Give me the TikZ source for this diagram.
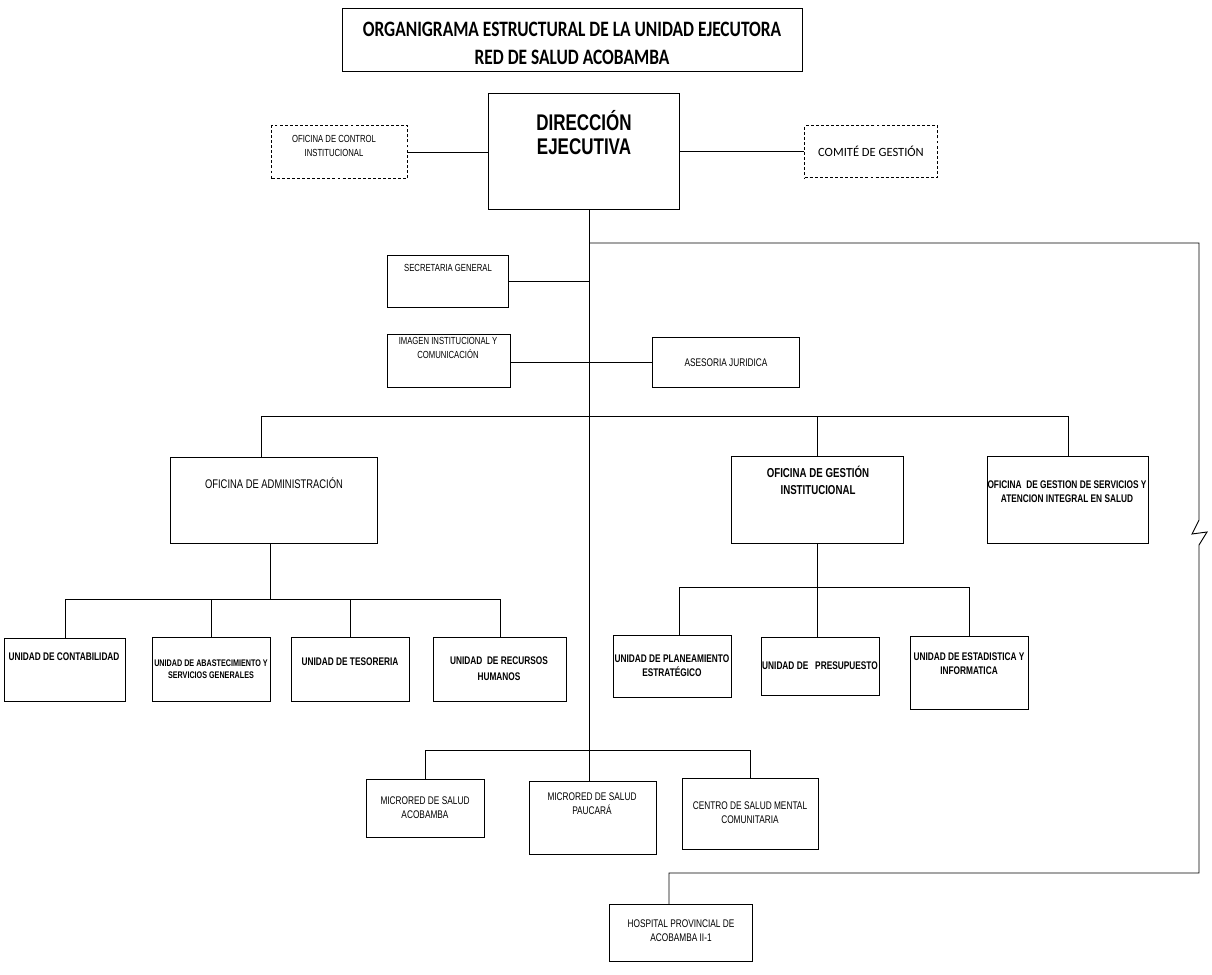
\documentclass[tikz,border=0pt]{standalone}
\usepackage{fontspec}
\setmainfont{Liberation Sans}[FakeStretch=0.75]
\newfontfamily\titlefont{Carlito}[FakeStretch=0.79]
\newfontfamily\comfont{Carlito}
\usepackage{tikz}

\newcommand{\px}{0.75pt}
\tikzset{
    box/.style 2 args={draw, line width=1pt, minimum width=#1*\px, minimum height=#2*\px, anchor=north west, inner sep=0pt},
    dbox/.style 2 args={box={#1}{#2}, dash pattern=on 2.2pt off 1.6pt},
    txt/.style={align=center, inner sep=0pt, font=\fontsize{8.3}{10.5}\selectfont},
    stxt/.style={align=center, inner sep=0pt, font=\fontsize{7.7}{10.5}\selectfont},
    btxt/.style={align=center, inner sep=0pt, font=\fontsize{8.3}{10.5}\selectfont\bfseries},
    wire/.style={line width=0.7pt}
}

\begin{document}
\begin{tikzpicture}[x=\px, y=-\px]
    \path[use as bounding box, fill=white] (0,0) rectangle (1212,974);

    % Boxes:
    \node[box={460}{63}] (title) at (342,8) {};
    \node[box={191}{116}] (dir) at (488,93) {};
    \node[dbox={136}{53}] (ctrl) at (271,125) {};
    \node[dbox={133}{52}] (com) at (804,125) {};
    \node[box={121}{52}] (sec) at (387,255) {};
    \node[box={123}{53}] (img) at (387,334) {};
    \node[box={147}{50}] (ase) at (652,337) {};
    \node[box={207}{86}] (adm) at (170,457) {};
    \node[box={172}{87}] (ges) at (731,456) {};
    \node[box={161}{87}] (serv) at (987,456) {};
    \node[box={121}{63}] (cont) at (4,638) {};
    \node[box={118}{64}] (abas) at (152,637) {};
    \node[box={118}{64}] (teso) at (291,637) {};
    \node[box={133}{64}] (rrhh) at (433,637) {};
    \node[box={118}{62}] (plan) at (613,635) {};
    \node[box={118}{58}] (pres) at (761,637) {};
    \node[box={118}{73}] (esta) at (910,636) {};
    \node[box={118}{58}] (mic1) at (366,779) {};
    \node[box={127}{73}] (mic2) at (529,781) {};
    \node[box={136}{71}] (csmc) at (682,778) {};
    \node[box={143}{57}] (hosp) at (609,904) {};

    % Texts:
    \node[align=center, inner sep=0pt, font=\titlefont\fontsize{16.5}{21}\selectfont\bfseries] (title-t) at (572,43) {ORGANIGRAMA ESTRUCTURAL DE LA UNIDAD EJECUTORA\\RED DE SALUD ACOBAMBA};
    \node[align=center, inner sep=0pt, font=\fontsize{17}{18}\selectfont\bfseries] (dir-t) at (584,133) {DIRECCIÓN\\EJECUTIVA};
    \node[stxt] (ctrl-t) at (334,146) {OFICINA DE CONTROL\\INSTITUCIONAL};
    \node[inner sep=0pt, font=\comfont\fontsize{9.4}{11}\selectfont] (com-t) at (871,151) {COMITÉ DE GESTIÓN};
    \node[stxt] (sec-t) at (448,268) {SECRETARIA GENERAL};
    \node[stxt] (img-t) at (448,348) {IMAGEN INSTITUCIONAL Y\\COMUNICACIÓN};
    \node[txt] (ase-t) at (726,363) {ASESORIA JURIDICA};
    \node[txt, font=\fontsize{9.4}{11}\selectfont] (adm-t) at (274,483) {OFICINA DE ADMINISTRACIÓN};
    \node[btxt, font=\fontsize{9.7}{12.75}\selectfont\bfseries] (ges-t) at (818,480) {OFICINA DE GESTIÓN\\INSTITUCIONAL};
    \node[btxt] (serv-t) at (1067,492) {OFICINA\ \ DE GESTION DE SERVICIOS Y\\ATENCION INTEGRAL EN SALUD};
    \node[btxt] (cont-t) at (64,657) {UNIDAD DE CONTABILIDAD};
    \node[btxt, font=\fontsize{7.2}{9}\selectfont\bfseries] (abas-t) at (211,669) {UNIDAD DE ABASTECIMIENTO Y\\SERVICIOS GENERALES};
    \node[btxt] (teso-t) at (350,662) {UNIDAD DE TESORERIA};
    \node[btxt, font=\fontsize{8.3}{12}\selectfont\bfseries] (rrhh-t) at (499,669) {UNIDAD\ \ DE RECURSOS\\HUMANOS};
    \node[btxt] (plan-t) at (672,666) {UNIDAD DE PLANEAMIENTO\\ESTRATÉGICO};
    \node[btxt] (pres-t) at (820,666) {UNIDAD DE\ \ \ PRESUPUESTO};
    \node[btxt] (esta-t) at (969,664) {UNIDAD DE ESTADISTICA Y\\INFORMATICA};
    \node[txt] (mic1-t) at (425,808) {MICRORED DE SALUD\\ACOBAMBA};
    \node[txt] (mic2-t) at (592,804) {MICRORED DE SALUD\\PAUCARÁ};
    \node[txt] (csmc-t) at (750,813) {CENTRO DE SALUD MENTAL\\COMUNITARIA};
    \node[txt] (hosp-t) at (681,931) {HOSPITAL PROVINCIAL DE\\ACOBAMBA II-1};

    % Wires:
    \coordinate (sp) at (589,209);
    \coordinate (mbus) at (589,750);
    \coordinate (rt) at (589,243);
    \coordinate (zz) at (1199,520);
    \coordinate (hk) at (669,873);
    \coordinate (ta) at (261,416);
    \coordinate (aa) at (270,599);
    \coordinate (pa) at (679,587);

    \draw[wire] (ctrl.east) -- (ctrl.east -| dir.west);
    \draw[wire] (com.west) -- (com.west -| dir.east);
    \draw[wire] (sp) -- (mbus |- mic2.north);
    \draw[wire] (mic1.north) |- (csmc.north |- mbus) -- (csmc.north);
    \draw[wire] (rt) -| (zz) -- ++(-7,14) -- ++(15,-2) -- ++(-8,13) |- (hk) -- (hk |- hosp.north);
    \draw[wire] (sec.east) -- (sec.east -| sp);
    \draw[wire] (img.east |- ase.west) -- (ase.west);
    \draw[wire] (ta |- adm.north) -- (ta) -| (serv.north);
    \draw[wire] (ges.north) -- (ges.north |- ta);
    \draw[wire] (aa |- adm.south) -- (aa);
    \draw[wire] (cont.north) |- (rrhh.north |- aa) -- (rrhh.north);
    \draw[wire] (abas.north) -- (abas.north |- aa);
    \draw[wire] (teso.north) -- (teso.north |- aa);
    \draw[wire] (ges.south) -- (ges.south |- pres.north);
    \draw[wire] (pa |- plan.north) -- (pa) -| (esta.north);
\end{tikzpicture}
\end{document}
